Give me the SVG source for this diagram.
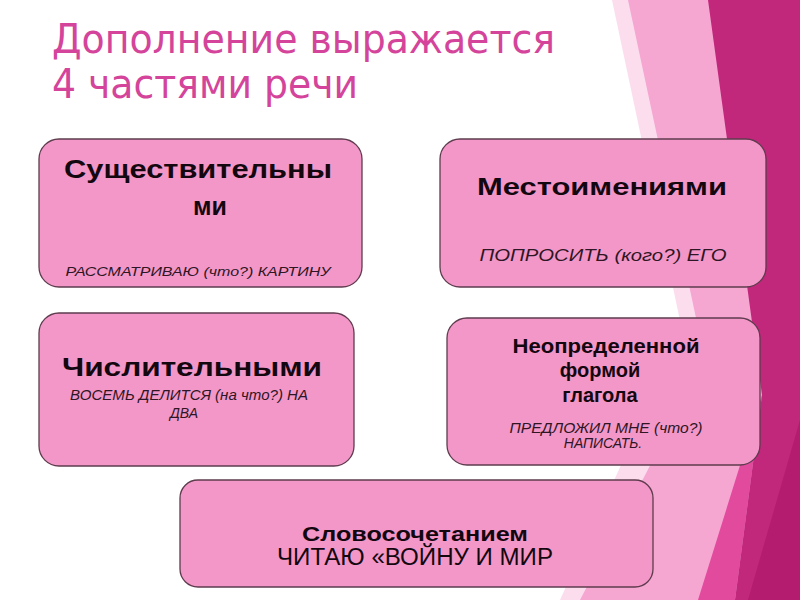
<svg xmlns="http://www.w3.org/2000/svg" width="800" height="600" viewBox="0 0 800 600">
  <style>
    .box { fill: #F397C9; stroke: #5E3C4E; stroke-width: 1.3; }
    .title { font-family: "DejaVu Sans", "Open Sans", sans-serif; font-size: 40px; fill: #D4449A; }
    .head { font-family: "Liberation Sans", Arial, sans-serif; font-weight: bold; fill: #140810; text-anchor: middle; }
    .sub { font-family: "Liberation Sans", Arial, sans-serif; font-style: italic; fill: #2E1624; text-anchor: middle; }
    .plain { font-family: "Liberation Sans", Arial, sans-serif; fill: #140810; text-anchor: middle; }
  </style>
  <rect width="800" height="600" fill="#FFFFFF"/>
  <g id="background">
    <polygon points="612,0 700,0 710,360 590,600 560,600 682,330" fill="#FCDDEE"/>
    <polygon points="628,0 800,0 800,600 580,600 705,360" fill="#F5A6D1"/>
    <polygon points="762,395 735,600 698,600" fill="#E24A9E"/>
    <polygon points="708,0 800,0 800,600 735,600 762,395" fill="#C1277B"/>
    <polygon points="800,420 800,600 748,600" fill="#B41C70"/>
  </g>
  <g id="title">
    <text class="title" x="52" y="53" textLength="503" lengthAdjust="spacingAndGlyphs">Дополнение выражается</text>
    <text class="title" x="52" y="98" textLength="306" lengthAdjust="spacingAndGlyphs">4 частями речи</text>
  </g>
  <g id="connectors"></g>
  <g id="node-nouns">
    <rect class="box" x="39" y="139" width="323" height="148" rx="20"/>
    <text class="head" x="198" y="178" font-size="25" textLength="268" lengthAdjust="spacingAndGlyphs">Существительны</text>
    <text class="head" x="210" y="215" font-size="25">ми</text>
    <text class="sub" x="198" y="276" font-size="13.5" textLength="265" lengthAdjust="spacingAndGlyphs">РАССМАТРИВАЮ (что?) КАРТИНУ</text>
  </g>
  <g id="node-pronouns">
    <rect class="box" x="440" y="139" width="326" height="148" rx="20"/>
    <text class="head" x="602" y="195" font-size="24" textLength="250" lengthAdjust="spacingAndGlyphs">Местоимениями</text>
    <text class="sub" x="603" y="261" font-size="16" textLength="247" lengthAdjust="spacingAndGlyphs">ПОПРОСИТЬ (кого?) ЕГО</text>
  </g>
  <g id="node-numerals">
    <rect class="box" x="39" y="313" width="315" height="153" rx="20"/>
    <text class="head" x="192" y="376" font-size="26" textLength="260" lengthAdjust="spacingAndGlyphs">Числительными</text>
    <text class="sub" x="189" y="400" font-size="14" textLength="238" lengthAdjust="spacingAndGlyphs">ВОСЕМЬ ДЕЛИТСЯ (на что?) НА</text>
    <text class="sub" x="184" y="418" font-size="14">ДВА</text>
  </g>
  <g id="node-infinitive">
    <rect class="box" x="447" y="318" width="313" height="147" rx="20"/>
    <text class="head" x="606" y="353" font-size="20" textLength="187" lengthAdjust="spacingAndGlyphs">Неопределенной</text>
    <text class="head" x="600" y="377" font-size="20">формой</text>
    <text class="head" x="600" y="402" font-size="20">глагола</text>
    <text class="sub" x="606" y="433" font-size="14" textLength="193" lengthAdjust="spacingAndGlyphs">ПРЕДЛОЖИЛ МНЕ (что?)</text>
    <text class="sub" x="603" y="448" font-size="14">НАПИСАТЬ.</text>
  </g>
  <g id="node-phrase">
    <rect class="box" x="180" y="480" width="473" height="107" rx="18"/>
    <text class="head" x="415" y="541" font-size="20" textLength="226" lengthAdjust="spacingAndGlyphs">Словосочетанием</text>
    <text class="plain" x="415" y="565" font-size="23" textLength="276" lengthAdjust="spacingAndGlyphs">ЧИТАЮ «ВОЙНУ И МИР</text>
  </g>
</svg>
